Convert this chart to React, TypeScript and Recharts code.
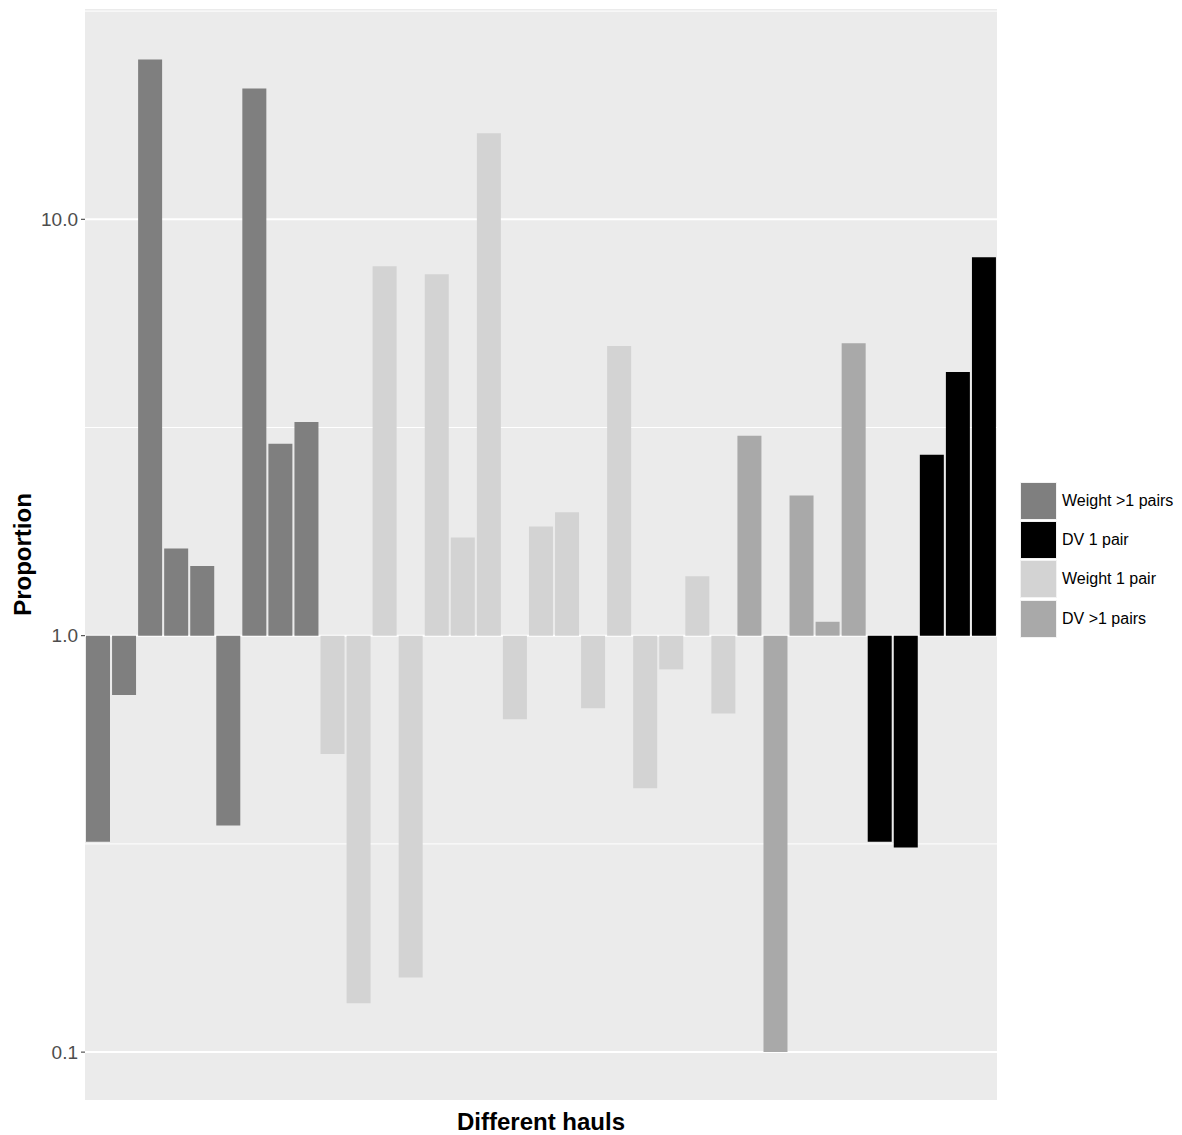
import { BarChart, Bar, Cell, XAxis, YAxis, CartesianGrid, Legend } from "recharts";

// one bar per haul, values are proportions on a log10 axis (baseline at 1.0)
const hauls = Array.from({ length: 35 }, (_, i) => `H${i + 1}`);

const proportions = [
    0.32, 0.72, 24.2, 1.62, 1.47, 0.35, 20.6, 2.89, 3.26,
    0.52, 0.131, 7.71, 0.151, 7.38, 1.72, 16.1, 0.63, 1.83, 1.98, 0.67, 4.96, 0.43, 0.83, 1.39, 0.65,
    3.02, 0.1, 2.17, 1.08, 5.04,
    0.32, 0.31, 2.72, 4.3, 8.11,
];

const groups = [
    ...Array(9).fill("Weight >1 pairs"),
    ...Array(16).fill("Weight 1 pair"),
    ...Array(5).fill("DV >1 pairs"),
    ...Array(5).fill("DV 1 pair"),
];

const legendOrder = ["Weight >1 pairs", "DV 1 pair", "Weight 1 pair", "DV >1 pairs"];

const groupColors: Record<string, string> = {
    "Weight >1 pairs": "#7f7f7f",
    "DV 1 pair": "#000000",
    "Weight 1 pair": "#d3d3d3",
    "DV >1 pairs": "#a9a9a9",
};

const yTicks = [-1, 0, 1];
const yTickLabels: Record<number, string> = { "-1": "0.1", "0": "1.0", "1": "10.0" };

const data = hauls.map((h, i) => ({
    haul: h,
    group: groups[i],
    logv: Math.log10(proportions[i]),
}));

const FONT = "'Liberation Sans', Arial, sans-serif";

function LegendBox() {
    return (
        <div style={{ fontFamily: FONT, fontSize: 16, color: "#000" }}>
            {legendOrder.map((g) => (
                <div key={g} style={{ display: "flex", alignItems: "center", height: 39.3 }}>
                    <div
                        style={{
                            width: 37,
                            height: 38,
                            background: groupColors[g],
                            border: "1px solid #f2f2f2",
                            boxSizing: "border-box",
                        }}
                    />
                    <span style={{ marginLeft: 5 }}>{g}</span>
                </div>
            ))}
        </div>
    );
}

export default function App() {
    return (
        <div style={{ position: "absolute", left: 0, top: 0, width: 1182, height: 1135, background: "#fff" }}>
            <BarChart
                width={1182}
                height={1135}
                data={data}
                margin={{ top: 9, right: 185, bottom: 35, left: 0 }}
                barCategoryGap={1}
            >
                <CartesianGrid
                    vertical={false}
                    fill="#ebebeb"
                    stroke="#ffffff"
                    strokeWidth={1}
                    horizontalValues={[-0.5, 0.5, 1.5]}
                />
                <CartesianGrid
                    vertical={false}
                    stroke="#ffffff"
                    strokeWidth={2}
                    horizontalValues={yTicks}
                />
                <XAxis dataKey="haul" hide />
                <YAxis
                    type="number"
                    width={85}
                    domain={[-1.115, 1.505]}
                    ticks={yTicks}
                    allowDataOverflow
                    axisLine={false}
                    tickLine={{ stroke: "#333333" }}
                    tickSize={4}
                    tickMargin={3}
                    tick={{ fontSize: 19, fill: "#4d4d4d", fontFamily: FONT }}
                    tickFormatter={(v: number) => yTickLabels[v] ?? ""}
                    label={{
                        value: "Proportion",
                        angle: -90,
                        position: "insideLeft",
                        offset: 22,
                        style: { fontSize: 24, fontWeight: 700, fill: "#000", fontFamily: FONT, textAnchor: "middle" },
                    }}
                />
                <Legend
                    layout="horizontal"
                    verticalAlign="middle"
                    content={() => <LegendBox />}
                    wrapperStyle={{ position: "absolute", left: 1020, top: 481, width: 162 }}
                />
                <Bar dataKey="logv" isAnimationActive={false}>
                    {data.map((d) => (
                        <Cell key={d.haul} fill={groupColors[d.group]} />
                    ))}
                </Bar>
                <text
                    x={541}
                    y={1130}
                    textAnchor="middle"
                    style={{ fontSize: 24, fontWeight: 700, fontFamily: FONT }}
                    fill="#000"
                >
                    Different hauls
                </text>
            </BarChart>
        </div>
    );
}
